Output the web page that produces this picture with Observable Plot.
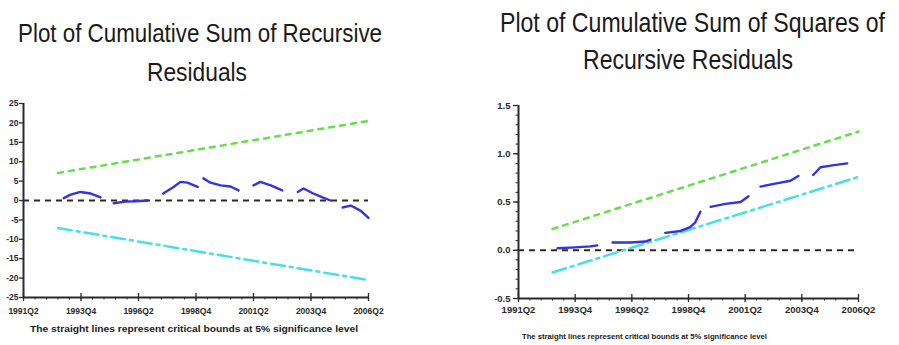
<!DOCTYPE html>
<html><head><meta charset="utf-8">
<script src="https://cdn.jsdelivr.net/npm/d3@7"></script>
<script src="https://cdn.jsdelivr.net/npm/@observablehq/plot@0.6"></script>
<style>
body{margin:0;background:#fff;}
#wrap{position:relative;width:899px;height:345px;overflow:hidden;background:#fff;}
.t{position:absolute;white-space:nowrap;color:#1a1a1a;line-height:1;transform-origin:left top;}
.title{font-family:"Liberation Sans Narrow","Arial Narrow","Liberation Sans",sans-serif;}
.cap{font-family:"Liberation Sans Narrow","Liberation Sans",sans-serif;font-weight:bold;}
.plot{position:absolute;top:90px;}
</style></head><body><div id="wrap"></div>
<script>
// ---------- shared axis data ----------
const xTickIndex = [0, 10, 20, 30, 40, 50, 60];           // quarters since 1991Q2
const xTickLabels = ["1991Q2", "1993Q4", "1996Q2", "1998Q4", "2001Q2", "2003Q4", "2006Q2"];
const xMinorIndex = d3.range(0, 61, 2);

// ---------- left chart: CUSUM ----------
const cusumTicks = [25, 20, 15, 10, 5, 0, -5, -10, -15, -20, -25];
const cusumTickLabels = ["25", "20", "15", "10", "5", "0", "-5", "-10", "-15", "-20", "-25"];
const cusumIdx = [7.0, 8.2, 9.9, 11.7, 13.4, 14.5, 15.7, 17.7, 19.5, 21.6, 23.0, 24.3, 26.1, 27.3, 28.5, 30.3, 30.8,
  31.3, 32.5, 34.3, 36.0, 37.4, 38.7, 40.0, 41.2, 43.0, 45.0, 46.3, 47.7, 48.7, 50.4, 52.0, 53.4, 54.5, 55.5, 56.9, 58.6, 60.0];
const cusumVal = [0.6, 1.5, 2.2, 1.8, 0.8, null, -0.7, -0.3, -0.2, 0.0, null, 1.8, 3.5, 4.8, 4.6, 3.5, null,
  5.7, 4.6, 3.9, 3.6, 2.6, null, 3.9, 4.8, 3.9, 2.6, null, 2.2, 3.1, 1.8, 0.8, 0.0, null, -1.8, -1.3, -2.6, -4.5];
const cusumBoundIdx = [6, 60];
const cusumUpper = [7.1, 20.5];
const cusumLower = [-7.1, -20.5];

// ---------- right chart: CUSUM of squares ----------
const sqTicks = [1.5, 1.0, 0.5, 0.0, -0.5];
const sqTickLabels = ["1.5", "1.0", "0.5", "0.0", "-0.5"];
const sqMinor = d3.range(-0.5, 1.51, 0.1);
const sqIdx = [6.9, 10.0, 12.7, 13.9, 15.2, 16.6, 19.8, 22.4, 23.3, 24.6, 25.9, 28.6, 30.3, 31.2, 32.1, 33.0,
  33.9, 36.5, 39.2, 40.6, 41.6, 42.7, 45.3, 48.0, 49.4, 50.7, 52.0, 53.3, 55.4, 58.0];
const sqVal = [0.02, 0.03, 0.04, 0.05, null, 0.08, 0.08, 0.09, 0.11, null, 0.18, 0.20, 0.24, 0.29, 0.40, null,
  0.45, 0.48, 0.50, 0.56, null, 0.66, 0.69, 0.72, 0.77, null, 0.78, 0.86, 0.88, 0.90];
const sqBoundIdx = [6, 60];
const sqUpper = [0.22, 1.23];
const sqLower = [-0.23, 0.76];

const BLUE = "#3434dc", GREEN = "#66dd4a", CYAN = "#44e0e6", AX = "#2a2a2a";

function pts(xs, ys) { return xs.map((x, i) => ({x, y: ys[i]})); }

function makeChart(o) {
  const font = o.font;
  return Plot.plot({
    width: o.width, height: o.height,
    marginLeft: o.mL, marginRight: o.mR, marginTop: o.mT, marginBottom: o.mB,
    style: {background: "transparent", fontFamily: '"Liberation Sans Narrow","Liberation Sans",sans-serif', fontSize: font + "px", fontWeight: "bold", color: AX, overflow: "visible"},
    x: {domain: [0, 60], axis: null},
    y: {domain: o.yDomain, axis: null},
    marks: [
      Plot.ruleY([0], {stroke: AX, strokeWidth: 2, strokeDasharray: "6,5"}),
      Plot.line(pts(o.boundIdx, o.upper), {x: "x", y: "y", stroke: GREEN, strokeWidth: 2.5, strokeDasharray: "5,6"}),
      Plot.line(pts(o.boundIdx, o.lower), {x: "x", y: "y", stroke: CYAN, strokeWidth: 2.5, strokeDasharray: "14,5,3,5"}),
      Plot.line(pts(o.idx, o.val), {x: "x", y: "y", stroke: BLUE, strokeWidth: 2.4}),
      Plot.ruleX([0], {stroke: AX, strokeWidth: 2}),
      Plot.ruleY([o.yDomain[0]], {stroke: AX, strokeWidth: 2}),
      Plot.axisX(xMinorIndex, {anchor: "bottom", tickSize: 2.5, text: null, stroke: AX, label: null}),
      Plot.axisX(xTickIndex, {anchor: "bottom", tickSize: 4, tickPadding: o.xPad, stroke: AX, strokeWidth: 1.3,
        tickFormat: d => xTickLabels[xTickIndex.indexOf(d)], fontSize: font, fill: AX, label: null}),
      Plot.axisX(xTickIndex, {anchor: "bottom", tickSize: -4, text: null, stroke: AX, strokeWidth: 1.3, label: null}),
      ...(o.yMinor ? [Plot.axisY(o.yMinor, {anchor: "left", tickSize: 2.5, text: null, stroke: AX, label: null})] : []),
      Plot.axisY(o.yTicks, {anchor: "left", tickSize: o.yTickSize, tickPadding: o.yPad, stroke: AX, strokeWidth: 1.3,
        tickFormat: d => o.yLabels[o.yTicks.indexOf(d)], fontSize: font, fill: AX, label: null})
    ]
  });
}

const wrap = document.getElementById("wrap");

const left = makeChart({width: 440, height: 235, mL: 23, mR: 72, mT: 13, mB: 28,
  yDomain: [-25, 25], yTicks: cusumTicks, yLabels: cusumTickLabels, yTickSize: 4, yPad: 1,
  idx: cusumIdx, val: cusumVal, boundIdx: cusumBoundIdx, upper: cusumUpper, lower: cusumLower,
  font: 8.5, xPad: 6});
left.classList.add("plot"); left.style.left = "0px";
wrap.appendChild(left);

const right = makeChart({width: 439, height: 235, mL: 58, mR: 41, mT: 15, mB: 27,
  yDomain: [-0.5, 1.5], yTicks: sqTicks, yLabels: sqTickLabels, yMinor: sqMinor, yTickSize: 5, yPad: 3,
  idx: sqIdx, val: sqVal, boundIdx: sqBoundIdx, upper: sqUpper, lower: sqLower,
  font: 9.5, xPad: 4});
right.classList.add("plot"); right.style.left = "460px";
wrap.appendChild(right);

// ---------- texts ----------
const texts = [
  {s: "Plot of Cumulative Sum of Recursive", cls: "title", size: 26, cx: 200, top: 20, w: 364},
  {s: "Residuals", cls: "title", size: 26, cx: 197, top: 59, w: 100},
  {s: "Plot of Cumulative Sum of Squares of", cls: "title", size: 28, cx: 692, top: 9, w: 385},
  {s: "Recursive Residuals", cls: "title", size: 28, cx: 688, top: 46, w: 210},
  {s: "The straight lines represent critical bounds at 5% significance level", cls: "cap", size: 9, cx: 194, top: 325, w: 328},
  {s: "The straight lines represent critical bounds at 5% significance level", cls: "cap", size: 8, cx: 644, top: 333, w: 245}
];
for (const t of texts) {
  const d = document.createElement("div");
  d.className = "t " + t.cls;
  d.textContent = t.s;
  d.style.fontSize = t.size + "px";
  d.style.top = t.top + "px";
  wrap.appendChild(d);
  const w = d.getBoundingClientRect().width;
  const k = t.w / w;
  d.style.left = (t.cx - t.w / 2) + "px";
  d.style.transform = `scaleX(${k})`;
}
</script>
</body></html>
